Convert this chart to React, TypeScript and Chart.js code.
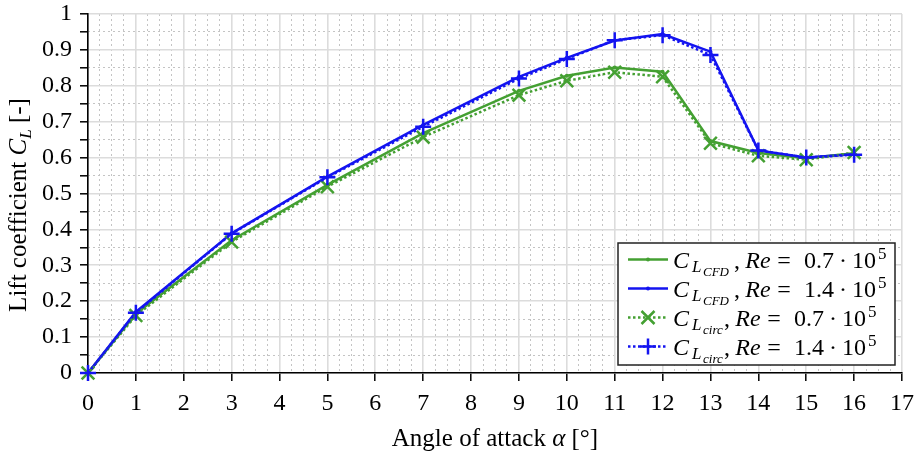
import React, { useEffect, useRef } from "react";
import { Chart, registerables } from "chart.js";

Chart.register(...registerables);

const alpha = [0, 1, 3, 5, 7, 9, 10, 11, 12, 13, 14, 15, 16];
const cfd07 = [0, 0.165, 0.37, 0.524, 0.668, 0.786, 0.828, 0.851, 0.839, 0.646, 0.613, 0.598, 0.612];
const cfd14 = [0, 0.17, 0.389, 0.547, 0.691, 0.825, 0.878, 0.926, 0.944, 0.895, 0.62, 0.6, 0.609];
const circ07 = [0, 0.16, 0.365, 0.519, 0.657, 0.774, 0.814, 0.838, 0.825, 0.64, 0.605, 0.594, 0.614];
const circ14 = [0, 0.168, 0.388, 0.545, 0.686, 0.82, 0.875, 0.927, 0.941, 0.886, 0.62, 0.6, 0.608];

const legendRe = ["0.7", "1.4", "0.7", "1.4"];
const legendSub = ["CFD", "CFD", "circ", "circ"];

const GREEN = "#44a032";
const BLUE = "#1414f0";
const FONT = '"Liberation Serif", "DejaVu Serif", serif';
const MAJOR = "#dcdcdc";
const MINOR = "#c4c4c4";

type Seg = { t: string; s: number; i?: boolean; dy?: number };

function richWidth(ctx: CanvasRenderingContext2D, segs: Seg[]) {
  let w = 0;
  for (const g of segs) {
    ctx.font = `${g.i ? "italic " : ""}${g.s}px ${FONT}`;
    w += ctx.measureText(g.t).width;
  }
  return w;
}

function drawRich(ctx: CanvasRenderingContext2D, x: number, y: number, segs: Seg[]) {
  ctx.textBaseline = "alphabetic";
  ctx.textAlign = "left";
  for (const g of segs) {
    ctx.font = `${g.i ? "italic " : ""}${g.s}px ${FONT}`;
    ctx.fillText(g.t, x, y + (g.dy || 0));
    x += ctx.measureText(g.t).width;
  }
  return x;
}

function put(
  ctx: CanvasRenderingContext2D,
  t: string,
  x: number,
  y: number,
  s: number,
  italic = false,
  align: CanvasTextAlign = "left"
) {
  ctx.font = `${italic ? "italic " : ""}${s}px ${FONT}`;
  ctx.textAlign = align;
  ctx.fillText(t, x, y);
}

const pts = (ys: number[]) => alpha.map((a, i) => ({ x: a, y: ys[i] }));
const isMajor = (v: number, step: number) => Math.abs(v / step - Math.round(v / step)) < 1e-6;

const overlayPlugin = {
  id: "overlay",
  afterDraw(chart: any) {
    const ctx: CanvasRenderingContext2D = chart.ctx;
    const area = chart.chartArea;
    ctx.save();
    ctx.fillStyle = "#000";
    // x title
    const xt: Seg[] = [
      { t: "Angle of attack ", s: 25 },
      { t: "α", s: 25, i: true },
      { t: " [°]", s: 25 },
    ];
    const xw = richWidth(ctx, xt);
    drawRich(ctx, (area.left + area.right) / 2 - xw / 2, 446, xt);
    // y title
    const yt: Seg[] = [
      { t: "Lift coefficient ", s: 25 },
      { t: "C", s: 25, i: true },
      { t: "L", s: 17, i: true, dy: 5 },
      { t: " [-]", s: 25 },
    ];
    const yw = richWidth(ctx, yt);
    ctx.save();
    ctx.translate(26, 205);
    ctx.rotate(-Math.PI / 2);
    drawRich(ctx, -yw / 2, 0, yt);
    ctx.restore();

    // legend
    const bx = 618, by = 243, bw = 277, bh = 122;
    ctx.fillStyle = "#fff";
    ctx.fillRect(bx, by, bw, bh);
    ctx.strokeStyle = "#222";
    ctx.lineWidth = 1.5;
    ctx.strokeRect(bx, by, bw, bh);
    const colors = [GREEN, BLUE, GREEN, BLUE];
    for (let r = 0; r < 4; r++) {
      const cy = 259.5 + r * 29;
      const col = colors[r];
      ctx.strokeStyle = col;
      ctx.fillStyle = col;
      ctx.lineWidth = 2.5;
      ctx.lineCap = "butt";
      ctx.setLineDash(r < 2 ? [] : [2.5, 2.5]);
      ctx.beginPath();
      ctx.moveTo(628, cy);
      ctx.lineTo(668, cy);
      ctx.stroke();
      ctx.setLineDash([]);
      if (r < 2) {
        ctx.beginPath();
        ctx.arc(648, cy, 2, 0, Math.PI * 2);
        ctx.fill();
      } else if (r === 2) {
        const o = 6.5;
        ctx.beginPath();
        ctx.moveTo(648 - o, cy - o);
        ctx.lineTo(648 + o, cy + o);
        ctx.moveTo(648 - o, cy + o);
        ctx.lineTo(648 + o, cy - o);
        ctx.stroke();
      } else {
        const o = 8;
        ctx.beginPath();
        ctx.moveTo(648 - o, cy);
        ctx.lineTo(648 + o, cy);
        ctx.moveTo(648, cy - o);
        ctx.lineTo(648, cy + o);
        ctx.stroke();
      }
      ctx.fillStyle = "#000";
      ctx.textBaseline = "alphabetic";
      const b = cy + 8;
      const cfd = r < 2;
      const c0 = cfd ? 734 : 724;
      put(ctx, "C", 673, b, 24, true);
      put(ctx, "L", 692, b + 4, 17, true);
      put(ctx, legendSub[r], 703, b + 8, 13, true);
      put(ctx, ",", c0, b, 24);
      put(ctx, "Re", c0 + 24, b, 24, true, "center");
      put(ctx, "=", c0 + 50, b, 24, false, "center");
      put(ctx, legendRe[r], c0 + 85, b, 24, false, "center");
      put(ctx, "·", c0 + 109, b, 24, false, "center");
      put(ctx, "10", c0 + 142, b, 24, false, "right");
      put(ctx, "5", c0 + 144, b - 9, 17, false, "left");
    }
    ctx.restore();
  },
};

export default function App() {
  const ref = useRef<HTMLCanvasElement>(null);
  useEffect(() => {
    document.body.style.margin = "0";
    const canvas = ref.current!;
    const tickFont = { family: FONT, size: 24 };
    const chart = new Chart(canvas, {
      type: "line",
      data: {
        datasets: [
          {
            label: "CFD 0.7",
            data: pts(cfd07),
            borderColor: GREEN,
            backgroundColor: GREEN,
            borderWidth: 2.5,
            pointStyle: "circle",
            pointRadius: 2,
            pointBorderWidth: 0,
            tension: 0,
            clip: false,
            order: 4,
          },
          {
            label: "CFD 1.4",
            data: pts(cfd14),
            borderColor: BLUE,
            backgroundColor: BLUE,
            borderWidth: 2.5,
            pointStyle: "circle",
            pointRadius: 2,
            pointBorderWidth: 0,
            tension: 0,
            clip: false,
            order: 3,
          },
          {
            label: "circ 0.7",
            data: pts(circ07),
            borderColor: GREEN,
            backgroundColor: GREEN,
            borderWidth: 2.5,
            borderDash: [2.5, 2.5],
            pointStyle: "crossRot",
            pointRadius: 9,
            pointBorderWidth: 2.5,
            tension: 0,
            clip: false,
            order: 2,
          },
          {
            label: "circ 1.4",
            data: pts(circ14),
            borderColor: BLUE,
            backgroundColor: BLUE,
            borderWidth: 2.5,
            borderDash: [2.5, 2.5],
            pointStyle: "cross",
            pointRadius: 8,
            pointBorderWidth: 2.5,
            tension: 0,
            clip: false,
            order: 1,
          },
        ],
      },
      options: {
        responsive: false,
        animation: false,
        events: [],
        layout: { padding: { left: 0, right: 17, top: 14, bottom: 0 } },
        plugins: { legend: { display: false }, tooltip: { enabled: false } },
        scales: {
          x2: {
            type: "linear",
            position: "bottom",
            min: 0,
            max: 17,
            ticks: { display: false, stepSize: 0.25, maxTicksLimit: 1000 },
            grid: {
              drawTicks: false,
              lineWidth: 1,
              color: (c: any) => (isMajor(c.tick.value, 1) ? "rgba(0,0,0,0)" : MINOR),
            },
            border: { display: false, dash: [2, 3] },
            afterFit: (s: any) => {
              s.height = 0;
              s.paddingLeft = 0;
              s.paddingRight = 0;
            },
          },
          y2: {
            type: "linear",
            position: "left",
            min: 0,
            max: 1,
            ticks: { display: false, stepSize: 0.05, maxTicksLimit: 1000 },
            grid: {
              drawTicks: false,
              lineWidth: 1,
              color: (c: any) => (isMajor(c.tick.value, 0.1) ? "rgba(0,0,0,0)" : MINOR),
            },
            border: { display: false, dash: [2, 3] },
            afterFit: (s: any) => {
              s.width = 0;
              s.paddingTop = 0;
              s.paddingBottom = 0;
            },
          },
          x: {
            type: "linear",
            position: "bottom",
            min: 0,
            max: 17,
            ticks: {
              stepSize: 1,
              maxTicksLimit: 1000,
              autoSkip: false,
              maxRotation: 0,
              color: "#000",
              font: tickFont,
              padding: 8,
            },
            grid: {
              color: MAJOR,
              lineWidth: 1.6,
              tickColor: "#000",
              tickLength: 8,
              tickWidth: 1.5,
            },
            border: { color: "#000", width: 1.6 },
            afterFit: (s: any) => {
              s.height = 79;
              s.paddingLeft = 0;
              s.paddingRight = 0;
            },
          },
          y: {
            type: "linear",
            position: "left",
            min: 0,
            max: 1,
            ticks: {
              stepSize: 0.05,
              maxTicksLimit: 1000,
              autoSkip: false,
              color: "#000",
              font: tickFont,
              padding: 8,
              callback: (v: any) => {
                const n = Number(v);
                if (!isMajor(n, 0.1)) return "";
                if (n === 0) return "0";
                if (Math.abs(n - 1) < 1e-9) return "1";
                return n.toFixed(1);
              },
            },
            grid: {
              color: (c: any) => (isMajor(c.tick.value, 0.1) ? MAJOR : "rgba(0,0,0,0)"),
              lineWidth: 1.6,
              tickColor: "#000",
              tickLength: 8,
              tickWidth: 1.5,
            },
            border: { color: "#000", width: 1.6 },
            afterFit: (s: any) => {
              s.width = 88;
              s.paddingTop = 0;
              s.paddingBottom = 0;
            },
          },
        },
      },
      plugins: [overlayPlugin],
    } as any);
    return () => chart.destroy();
  }, []);
  return (
    <div style={{ width: 919, height: 452 }}>
      <canvas ref={ref} width={919} height={452} style={{ display: "block" }} />
    </div>
  );
}
